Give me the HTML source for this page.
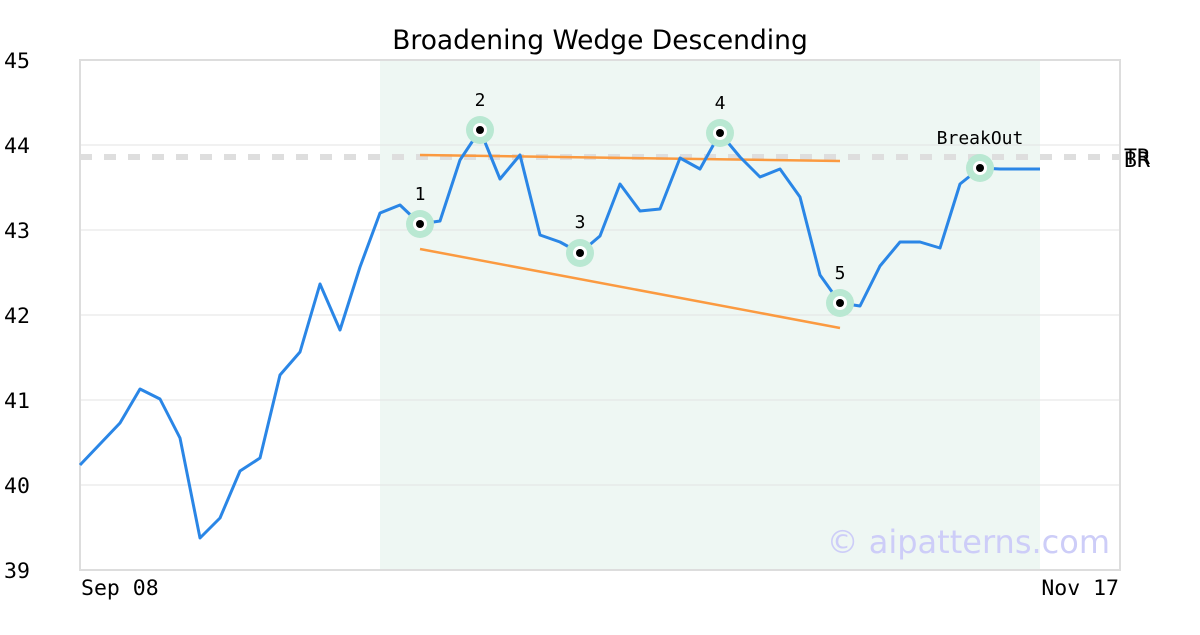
<!DOCTYPE html>
<html><head><meta charset="utf-8"><style>body{margin:0;background:#fff}svg text{font-family:"DejaVu Sans Mono","Liberation Mono",monospace}</style></head><body>
<svg width="1200" height="630" xmlns="http://www.w3.org/2000/svg">
<rect width="1200" height="630" fill="#fff"/>
<rect x="380" y="60" width="660" height="510" fill="#eef7f3"/>
<g stroke="#e3e3e3" stroke-width="1">
<line x1="80" y1="145" x2="1120" y2="145"/><line x1="80" y1="230" x2="1120" y2="230"/><line x1="80" y1="315" x2="1120" y2="315"/><line x1="80" y1="400" x2="1120" y2="400"/><line x1="80" y1="485" x2="1120" y2="485"/>
</g>
<line x1="80" y1="157" x2="1120" y2="157" stroke="#dedede" stroke-width="6" stroke-dasharray="12,12"/>
<rect x="80" y="60" width="1040" height="510" fill="none" stroke="#dddddd" stroke-width="2"/>
<line x1="420" y1="155" x2="840" y2="161" stroke="#fb9a40" stroke-width="2.5"/>
<line x1="420" y1="249" x2="840" y2="328" stroke="#fb9a40" stroke-width="2.5"/>
<polyline fill="none" stroke="#2a86e6" stroke-width="3" stroke-linejoin="round" points="80,465 100,444 120,423 140,389 160,399 180,438 200,538 220,518 240,471 260,458 280,375 300,352 320,284 340,330 360,267 380,213 400,205 420,224 440,221 460,160 480,130 500,179 520,155 540,235 560,242 580,253 600,236 620,184 640,211 660,209 680,158 700,169 720,133 740,157 760,177 780,169 800,197 820,275 840,303 860,306 880,266 900,242 920,242 940,248 960,184 980,168 1000,169 1020,169 1040,169"/>
<g fill="#b9e8d2"><circle cx="420" cy="224" r="14"/><circle cx="480" cy="130" r="14"/><circle cx="580" cy="253" r="14"/><circle cx="720" cy="133" r="14"/><circle cx="840" cy="303" r="14"/><circle cx="980" cy="168" r="14"/></g>
<g fill="#fff"><circle cx="420" cy="224" r="7"/><circle cx="480" cy="130" r="7"/><circle cx="580" cy="253" r="7"/><circle cx="720" cy="133" r="7"/><circle cx="840" cy="303" r="7"/><circle cx="980" cy="168" r="7"/></g>
<g fill="#000"><circle cx="420" cy="224" r="4"/><circle cx="480" cy="130" r="4"/><circle cx="580" cy="253" r="4"/><circle cx="720" cy="133" r="4"/><circle cx="840" cy="303" r="4"/><circle cx="980" cy="168" r="4"/></g>
<g font-size="18" text-anchor="middle" fill="#000">
<text x="420" y="200">1</text><text x="480" y="106">2</text><text x="580" y="228">3</text><text x="720" y="109">4</text><text x="840" y="279">5</text><text x="980" y="144">BreakOut</text>
</g>
<g font-size="21.5" fill="#000">
<text x="4" y="68">45</text><text x="4" y="153">44</text><text x="4" y="238">43</text><text x="4" y="323">42</text><text x="4" y="408">41</text><text x="4" y="493">40</text><text x="4" y="578">39</text>
<text x="81" y="595">Sep 08</text><text x="1119" y="595" text-anchor="end">Nov 17</text>
<text x="1124" y="164">TR</text><text x="1124" y="167">BR</text>
</g>
<text x="600" y="49" font-size="26.5" text-anchor="middle" style="font-family:'DejaVu Sans','Liberation Sans',sans-serif">Broadening Wedge Descending</text>
<text x="1110" y="553" font-size="32" text-anchor="end" fill="#cdcdf8" style="font-family:'DejaVu Sans','Liberation Sans',sans-serif">© aipatterns.com</text>
</svg>
</body></html>
